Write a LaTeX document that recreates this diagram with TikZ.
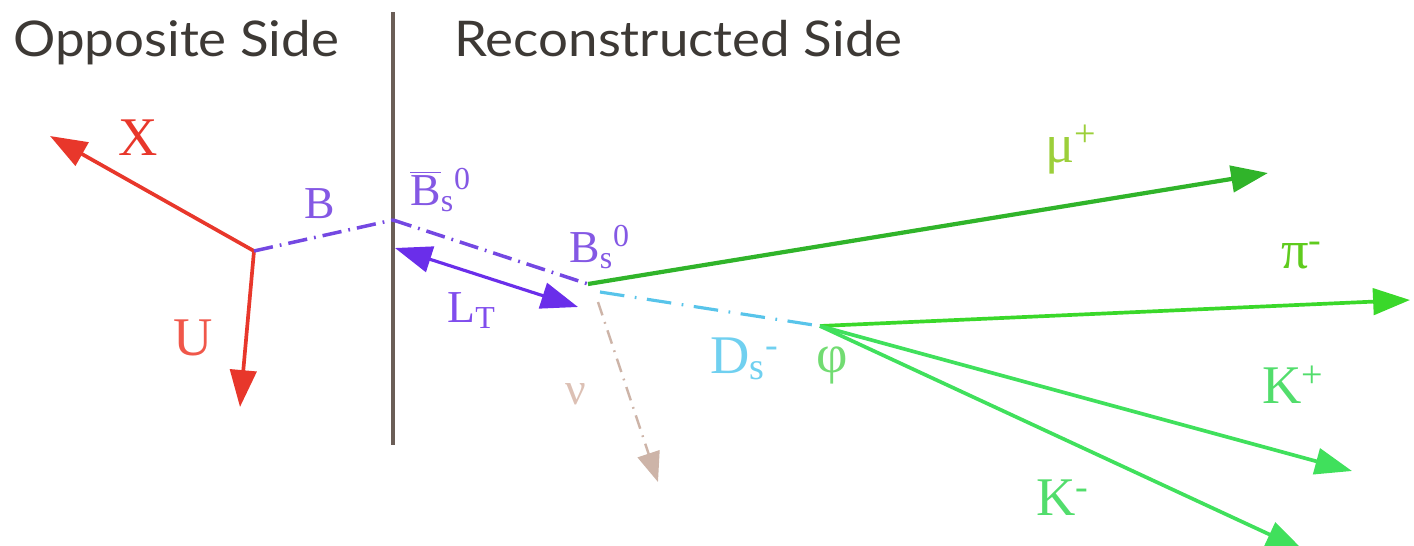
\documentclass[tikz,border=0pt]{standalone}
\usepackage{fontspec}
\setmainfont{Liberation Serif}
\newfontfamily\titlefont{Lato}
\usetikzlibrary{arrows.meta}
\definecolor{titlec}{HTML}{3D3935}
\definecolor{wallc}{HTML}{6B5E57}
\definecolor{redc}{HTML}{E8372B}
\definecolor{redl}{HTML}{F0574A}
\definecolor{purpc}{HTML}{7448E2}
\definecolor{purpl}{HTML}{8458E4}
\definecolor{ltc}{HTML}{6A2EEA}
\definecolor{cyanc}{HTML}{58C4EA}
\definecolor{cyanl}{HTML}{70D0F0}
\definecolor{nuc}{HTML}{CDB4A8}
\definecolor{nul}{HTML}{DCC0B4}
\definecolor{muc}{HTML}{30B42A}
\definecolor{mul}{HTML}{9CCF3A}
\definecolor{pic}{HTML}{3AD82A}
\definecolor{pil}{HTML}{5FCB1E}
\definecolor{kc}{HTML}{40E05C}
\definecolor{kl}{HTML}{52DD6C}
\definecolor{phil}{HTML}{72DC72}
\tikzset{
  titletext/.style={font=\titlefont\fontsize{28}{32}\selectfont, text=titlec, anchor=base west, inner sep=0pt},
  biglabel/.style={font=\fontsize{31}{36}\selectfont, inner sep=0pt},
  midlabel/.style={font=\fontsize{26}{30}\selectfont, inner sep=0pt},
  head/.style={-{Triangle[length=21pt,width=15pt]}},
  track/.style={head, line width=2.1pt},
  bdash/.style={line width=2pt, dash pattern=on 11pt off 4pt on 1pt off 4pt},
}
\begin{document}
\begin{tikzpicture}[x=0.02cm,y=-0.02cm]
\useasboundingbox (0,0) rectangle (1414,545);
\clip (0,0) rectangle (1414,545);
% titles
\node[titletext] (opp) at (13,56) {\scalebox{1.075}[1]{Opposite Side}};
\node[titletext] (rec) at (454,56) {\scalebox{1.075}[1]{Reconstructed Side}};
% wall
\coordinate (wtop) at (393,12);
\coordinate (wbot) at (393,445);
\draw[wallc, line width=2pt] (wtop) -- (wbot);
% vertices
\coordinate (v1) at (254,251);
\coordinate (wb) at (393,220);
\coordinate (v2) at (588,284);
\coordinate (v3) at (820,326);
% end points
\coordinate (xend) at (50,136);
\coordinate (uend) at (240,407);
\coordinate (lta) at (395,248);
\coordinate (ltb) at (578,307);
\coordinate (dss) at (600,292);
\coordinate (nus) at (598,302);
\coordinate (nuend) at (658,482);
\coordinate (muend) at (1268,173);
\coordinate (piend) at (1410,300);
\coordinate (kpend) at (1352,471);
\coordinate (kmend) at (1303,550);
% opposite side
\draw[track, redc] (v1) -- (xend);
\draw[track, redc] (v1) -- (uend);
\draw[bdash, purpc] (v1) -- (wb);
\draw[bdash, purpc] (wb) -- (v2);
\draw[ltc, line width=1.8pt, {Triangle[length=21pt,width=15pt]}-{Triangle[length=21pt,width=15pt]}] (lta) -- (ltb);
% reconstructed side
\draw[cyanc, line width=1.8pt, dash pattern=on 14pt off 6pt on 1pt off 6pt] (dss) -- (v3);
\draw[nuc, line width=1.4pt, dash pattern=on 8pt off 4pt on 1pt off 4pt, -{Triangle[length=17pt,width=13pt]}] (nus) -- (nuend);
\draw[track, muc, line width=2.4pt] (v2) -- (muend);
\draw[track, pic] (v3) -- (piend);
\draw[track, kc] (v3) -- (kpend);
\draw[track, kc] (v3) -- (kmend);
% labels
\node[biglabel, text=redc] (lx) at (138,138) {X};
\node[biglabel, text=redl] (lu) at (193,338) {U};
\node[midlabel, text=purpl] (lb) at (320,204) {B};
\node[midlabel, text=purpl, anchor=base west] (lbbar) at (410,205) {$\overline{\mbox{B}}$\textsubscript{s}\textsuperscript{0}};
\node[midlabel, text=purpl, anchor=base west] (lbs) at (569,262) {B\textsubscript{s}\textsuperscript{0}};
\node[midlabel, text=ltc!85!white, anchor=base west] (llt) at (447,322) {L\textsubscript{T}};
\node[biglabel, text=cyanl, anchor=base west] (lds) at (710,373) {D\textsubscript{s}\textsuperscript{-}};
\node[biglabel, text=phil, anchor=base west] (lphi) at (816,372) {φ};
\node[midlabel, text=nul, anchor=base west] (lnu) at (565,404) {ν};
\node[biglabel, text=mul, anchor=base west] (lmu) at (1045,162) {μ\textsuperscript{+}};
\node[biglabel, text=pil, anchor=base west] (lpi) at (1281,268) {π\textsuperscript{-}};
\node[biglabel, text=kl, anchor=base west] (lkp) at (1262,403) {K\textsuperscript{+}};
\node[biglabel, text=kl, anchor=base west] (lkm) at (1036,515) {K\textsuperscript{-}};
\end{tikzpicture}
\end{document}
